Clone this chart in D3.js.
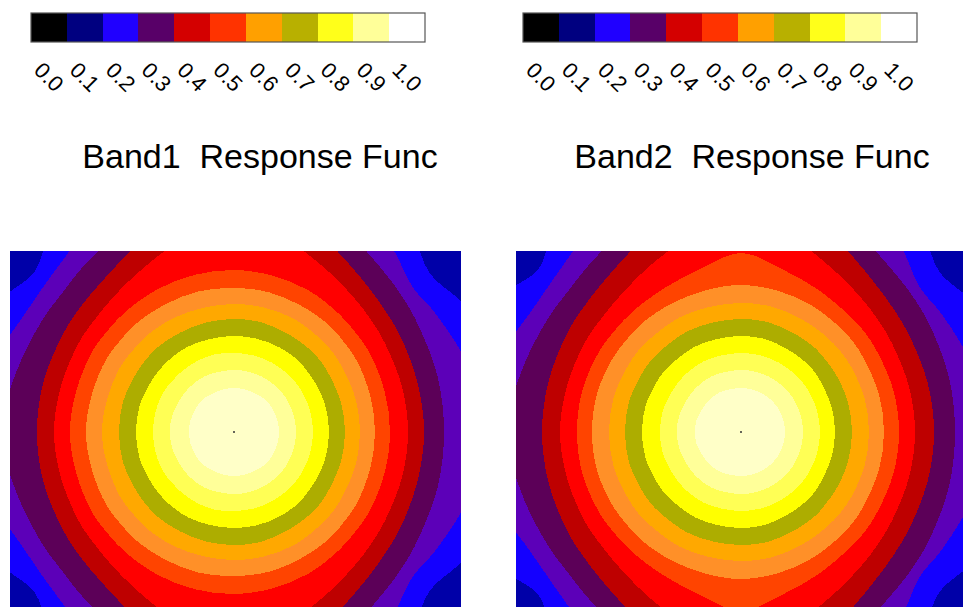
<!DOCTYPE html>
<html>
<head>
<meta charset="utf-8">
<script src="https://cdn.jsdelivr.net/npm/d3@7"></script>
<style>
  html, body { margin: 0; padding: 0; background: #ffffff; }
  svg { display: block; }
  text { font-family: "Liberation Sans", Arial, Helvetica, sans-serif; fill: #000; }
</style>
</head>
<body>
<svg id="chart" width="963" height="607"></svg>
<script>
// Colour bar: tick labels and the colour shown for each value
const tickLabels = ["0.0", "0.1", "0.2", "0.3", "0.4", "0.5", "0.6", "0.7", "0.8", "0.9", "1.0"];
const colorbarColors = ["#000000", "#000080", "#2000ff", "#580068", "#d40000", "#ff3300",
                        "#ffa000", "#b8b000", "#ffff1a", "#ffff99", "#ffffff"];

const panelTitles = ["Band1\u00a0\u00a0Response Func", "Band2\u00a0\u00a0Response Func"];

// Filled contour bands, from the lowest response (outside) to the peak (centre)
const bandColors = ["#0000a8", "#1400ff", "#5c00b8", "#5c0058", "#be0000", "#ff0000", "#ff4400",
                    "#ff9028", "#ffa800", "#adad00", "#ffff00", "#ffff55", "#ffff99", "#ffffc8"];

// Directions (degrees, counter-clockwise from +x) along which the contour radii were taken;
// the response is mirror-symmetric about the horizontal axis.
const rayAngles = [0, 15, 30, 39, 48, 62, 76, 90, 104, 118, 132, 141, 150, 165, 180];

// Offset extent of each response map (arcsec)
const band1ExtentX = [-224, 227];
const band2ExtentX = [-225, 226];
const extentY = [-181, 181];

// Contour radii (arcsec) per direction, innermost contour first
const band1Radii = [
  [45, 45, 45, 45, 45, 44, 44, 44, 44, 44, 45, 45, 45, 45, 45],
  [62, 62, 62, 62, 62, 62, 62, 62, 62, 63, 63, 63, 63, 64, 64],
  [79, 79, 79, 79, 79, 79, 79, 79, 80, 80, 80, 80, 81, 81, 81],
  [95, 95, 95, 95, 96, 96, 96, 96, 96, 97, 97, 97, 97, 98, 98],
  [111, 111, 111, 112, 112, 112, 113, 113, 113, 113, 114, 114, 114, 115, 115],
  [126, 126, 126, 127, 127, 128, 128, 128, 128, 129, 130, 130, 131, 131, 132],
  [141, 141, 142, 142, 143, 143, 144, 144, 145, 145, 146, 146, 147, 147, 148],
  [156, 156, 157, 157, 158, 160, 161, 162, 162, 162, 162, 162, 163, 163, 164],
  [174, 174, 175, 177, 180, 188, 200, 208, 200, 188, 181, 179, 179, 179, 180],
  [190, 190, 192, 194, 198, 210, 228, 240, 228, 210, 200, 198, 197, 197, 197],
  [210, 211, 213, 216, 220, 232, 250, 262, 250, 232, 224, 221, 222, 226, 233],
  [252, 244, 234, 230, 241, 270, 300, 310, 300, 275, 245, 240, 240, 252, 265],
  [320, 290, 262, 252, 268, 310, 350, 360, 350, 310, 275, 256, 268, 300, 320]
];

const band2Radii = [
  [44, 44, 44, 44, 44, 44, 44, 44, 44, 45, 45, 45, 45, 46, 46],
  [62, 62, 62, 62, 62, 62, 62, 62, 62, 63, 63, 63, 63, 64, 64],
  [79, 79, 79, 79, 79, 79, 79, 79, 79, 80, 80, 80, 80, 81, 81],
  [94, 94, 94, 95, 95, 95, 96, 96, 96, 97, 97, 98, 98, 99, 99],
  [111, 111, 111, 111, 112, 112, 113, 113, 113, 114, 114, 115, 115, 116, 116],
  [128, 128, 128, 128, 128, 128, 129, 129, 129, 130, 130, 131, 131, 132, 132],
  [143, 143, 143, 144, 144, 145, 146, 147, 146, 146, 147, 147, 148, 149, 149],
  [158, 158, 158, 159, 159, 162, 168, 179, 168, 163, 162, 162, 163, 164, 164],
  [174, 174, 175, 177, 180, 188, 201, 212, 202, 190, 182, 180, 180, 180, 181],
  [193, 193, 194, 196, 200, 213, 232, 245, 232, 215, 204, 201, 200, 199, 199],
  [214, 215, 217, 219, 222, 234, 252, 265, 252, 236, 226, 223, 224, 228, 234],
  [255, 242, 233, 230, 243, 272, 300, 310, 300, 278, 248, 242, 242, 256, 268],
  [320, 290, 265, 255, 272, 310, 350, 360, 350, 310, 280, 260, 275, 300, 320]
];

// ---- layout ----
const panels = [
  { title: panelTitles[0], radii: band1Radii, extentX: band1ExtentX,
    map: { left: 10, right: 461, top: 251, bottom: 613 },
    bar: { left: 31, right: 425, top: 13, bottom: 42, labelY: 77 },
    titleX: 260 },
  { title: panelTitles[1], radii: band2Radii, extentX: band2ExtentX,
    map: { left: 516, right: 967, top: 251, bottom: 613 },
    bar: { left: 523, right: 917, top: 13, bottom: 42, labelY: 77 },
    titleX: 752 }
];
const titleY = 168;

const svg = d3.select("#chart");
const defs = svg.append("defs");
const rad = Math.PI / 180;

panels.forEach((p, k) => {
  const g = svg.append("g");

  // colour bar
  const cb = d3.scaleBand().domain(tickLabels).range([p.bar.left, p.bar.right]);
  const color = d3.scaleOrdinal().domain(tickLabels).range(colorbarColors);
  g.append("g").selectAll("rect").data(tickLabels).join("rect")
    .attr("x", d => cb(d)).attr("y", p.bar.top)
    .attr("width", cb.bandwidth() + 0.5).attr("height", p.bar.bottom - p.bar.top)
    .attr("fill", d => color(d))
    .attr("shape-rendering", "crispEdges");
  g.append("rect")
    .attr("x", p.bar.left).attr("y", p.bar.top)
    .attr("width", p.bar.right - p.bar.left).attr("height", p.bar.bottom - p.bar.top)
    .attr("fill", "none").attr("stroke", "#555").attr("stroke-width", 1.2);
  g.append("g").selectAll("text").data(tickLabels).join("text")
    .attr("transform", d => `translate(${cb(d) + cb.bandwidth() / 2},${p.bar.labelY}) rotate(45)`)
    .attr("text-anchor", "middle")
    .attr("dominant-baseline", "central")
    .attr("font-size", 22)
    .text(d => d);

  // title
  g.append("text")
    .attr("x", p.titleX).attr("y", titleY)
    .attr("text-anchor", "middle")
    .attr("font-size", 34)
    .text(p.title);

  // response map
  const x = d3.scaleLinear().domain(p.extentX).range([p.map.left, p.map.right]);
  const y = d3.scaleLinear().domain(extentY).range([p.map.bottom, p.map.top]);
  const clipId = "clip" + k;
  defs.append("clipPath").attr("id", clipId).append("rect")
    .attr("x", x(p.extentX[0])).attr("y", y(extentY[1]))
    .attr("width", x(p.extentX[1]) - x(p.extentX[0]))
    .attr("height", y(extentY[0]) - y(extentY[1]));

  const map = g.append("g").attr("clip-path", `url(#${clipId})`);
  map.append("rect")
    .attr("x", x(p.extentX[0])).attr("y", y(extentY[1]))
    .attr("width", x(p.extentX[1]) - x(p.extentX[0]))
    .attr("height", y(extentY[0]) - y(extentY[1]))
    .attr("fill", bandColors[0]);

  const contour = d3.line()
    .x(d => x(d[1] * Math.cos(d[0] * rad)))
    .y(d => y(d[1] * Math.sin(d[0] * rad)))
    .curve(d3.curveCatmullRomClosed.alpha(0.5));

  const rings = p.radii.map((r, i) => {
    const upper = rayAngles.map((a, j) => [a, r[j]]);
    const lower = d3.range(rayAngles.length - 2, 0, -1).map(j => [360 - rayAngles[j], r[j]]);
    return { pts: upper.concat(lower), fill: bandColors[bandColors.length - 1 - i] };
  }).reverse();

  map.selectAll("path.band").data(rings).join("path")
    .attr("class", "band")
    .attr("d", d => contour(d.pts))
    .attr("fill", d => d.fill)
    .attr("shape-rendering", "crispEdges");

  // peak marker
  map.append("circle")
    .attr("cx", x(0)).attr("cy", y(0)).attr("r", 1)
    .attr("fill", "#333");
});
</script>
</body>
</html>
